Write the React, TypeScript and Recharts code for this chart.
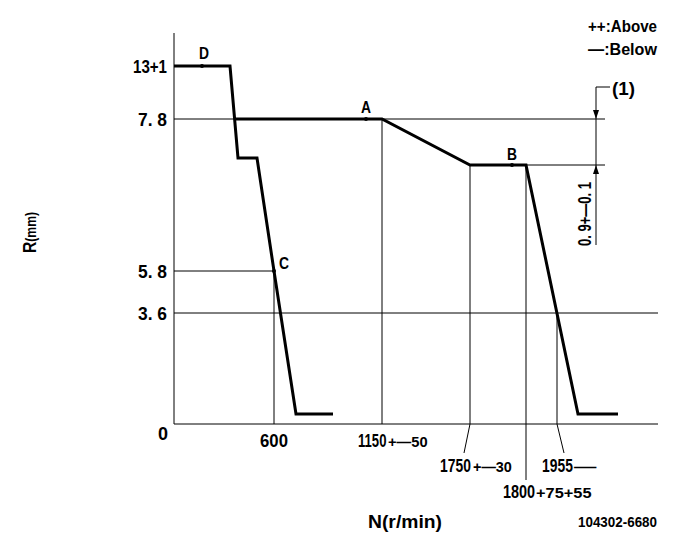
import React from "react";
import {
  ComposedChart,
  Line,
  XAxis,
  YAxis,
  ReferenceLine,
  ReferenceDot,
  Customized,
} from "recharts";

// Schematic drawing (not to scale): positions are in the drawing's own units.
// Start / full-load curve
const curveStartX = [0, 56, 64, 83, 100, 122, 159];
const curveStartY = [358, 358, 266, 266, 153, 10, 10];
// Governor curve
const curveGovX = [61, 208, 296, 352, 404, 444];
const curveGovY = [305, 305, 259, 259, 10, 10];

// Measuring points
const pointNames = ["D", "A", "B", "C"];
const pointX = [28, 192, 338, 100];
const pointY = [358, 305, 259, 153];

// Axis ticks
const xTickPos = [0, 100, 208, 296, 352, 383];
const xTickMain = ["0", "600", "1150", "1750", "1800", "1955"];
const xTickTol = ["", "", "+—50", "+—30", "+75+55", "—"];
const yTickPos = [111, 153, 305, 358];
const yTickLabels = ["3. 6", "5. 8", "7. 8", "13+1"];

// Guide lines: horizontal [x1, x2, y], vertical [x, yTop]
const hGuides = [
  [0, 431, 305],
  [352, 431, 259],
  [0, 100, 153],
  [0, 484, 111],
];
const vGuides = [
  [100, 153],
  [208, 305],
  [296, 259],
  [352, 259],
  [383, 111],
];

const startData = curveStartX.map((x, i) => ({ x, y: curveStartY[i] }));
const govData = curveGovX.map((x, i) => ({ x, y: curveGovY[i] }));

const FONT = "'Liberation Sans',Arial,sans-serif";
const AXIS_Y = 424;

const T = ({ x, y, s = 18, anchor = "start", len, rot, children }: any) => (
  <text
    x={x}
    y={y}
    fontSize={s}
    fontFamily={FONT}
    fontWeight="bold"
    textAnchor={anchor}
    textLength={len}
    lengthAdjust={len ? "spacingAndGlyphs" : undefined}
    fill="#000"
    transform={rot ? `rotate(${rot} ${x} ${y})` : undefined}
  >
    {children}
  </text>
);

// horizontally scaled text (condensed look)
const ST = ({ x, y, s, sx, anchor = "start", children }: any) => (
  <text
    x={0}
    y={0}
    fontSize={s}
    fontFamily={FONT}
    fontWeight="bold"
    textAnchor={anchor}
    fill="#000"
    transform={`translate(${x} ${y}) scale(${sx} 1)`}
  >
    {children}
  </text>
);

// layout of x tick labels relative to tick coordinate
const xTickLayout = [
  { mx: -11, anchor: "middle", by: 440, msx: 0.95, tx: 0, tsx: 1, lead: null },
  { mx: 0, anchor: "middle", by: 447, msx: 0.88, tx: 0, tsx: 1, lead: null },
  { mx: -24, anchor: "start", by: 447, msx: 0.69, tx: 6, tsx: 1.05, lead: null },
  { mx: -30, anchor: "start", by: 472, msx: 0.73, tx: 3, tsx: 1.03, lead: [-6, 453] },
  { mx: -23, anchor: "start", by: 498, msx: 0.76, tx: 10, tsx: 1.17, lead: [0, 480] },
  { mx: -15, anchor: "start", by: 472, msx: 0.73, tx: 17, tsx: 1.6, lead: [7, 453] },
];

const XTick = (props: any) => {
  const { payload, index } = props;
  const cx = payload.coordinate;
  let i = xTickPos.indexOf(payload.value);
  if (i < 0) i = index;
  const L = xTickLayout[i];
  return (
    <g>
      {L.lead && (
        <line x1={cx} y1={AXIS_Y} x2={cx + L.lead[0]} y2={L.lead[1]} stroke="#000" strokeWidth={1} />
      )}
      <ST x={cx + L.mx} y={L.by} s={19} sx={L.msx} anchor={L.anchor}>
        {xTickMain[i]}
      </ST>
      {xTickTol[i] && (
        <ST x={cx + L.tx} y={L.by} s={14} sx={L.tsx}>
          {xTickTol[i]}
        </ST>
      )}
    </g>
  );
};

const YTick = (props: any) => {
  const { payload } = props;
  const cy = payload.coordinate;
  const i = yTickPos.indexOf(payload.value);
  const lab = yTickLabels[i];
  return (
    <T x={167} y={cy + 7} anchor="end" len={lab === "13+1" ? 34 : 29} s={19}>
      {lab}
    </T>
  );
};

const pointLabelLayout = [
  { dx: 2, dy: -7, anchor: "middle" },
  { dx: 0, dy: -6, anchor: "middle" },
  { dx: 0, dy: -5, anchor: "middle" },
  { dx: 5, dy: -2, anchor: "start" },
];

const makePointShape = (i: number) => (p: any) => {
  const L = pointLabelLayout[i];
  return (
    <g>
      <circle cx={p.cx} cy={p.cy} r={2} fill="#000" />
      <T x={p.cx + L.dx} y={p.cy + L.dy} anchor={L.anchor} s={17} len={10}>
        {pointNames[i]}
      </T>
    </g>
  );
};

const arrowDown = (p: any) => (
  <path d={`M${p.cx},${p.cy} L${p.cx - 3},${p.cy - 9} L${p.cx + 3},${p.cy - 9} Z`} fill="#000" />
);
const arrowUp = (p: any) => (
  <path d={`M${p.cx},${p.cy} L${p.cx - 3},${p.cy + 9} L${p.cx + 3},${p.cy + 9} Z`} fill="#000" />
);

const StaticText = () => (
  <g>
    <T x={588} y={32} len={69} s={17}>++:Above</T>
    <T x={588} y={55} len={69} s={17}>—:Below</T>
    <T x={612} y={95} len={23} s={18}>(1)</T>
    <T x={591} y={246} len={64} s={18} rot={-90}>0. 9+—0. 1</T>
    <text
      x={36}
      y={253}
      fontFamily={FONT}
      fontWeight="bold"
      fill="#000"
      textLength={41}
      lengthAdjust="spacingAndGlyphs"
      transform="rotate(-90 36 253)"
    >
      <tspan fontSize={18}>R</tspan>
      <tspan fontSize={14}>(mm)</tspan>
    </text>
    <T x={368} y={528} len={74} s={19}>N(r/min)</T>
    <T x={578} y={527} len={79} s={14}>104302-6680</T>
  </g>
);

export default function App() {
  return (
    <div style={{ position: "absolute", left: 0, top: 0, width: 685, height: 549, background: "#fff" }}>
      <ComposedChart
        width={685}
        height={549}
        margin={{ top: 33, right: 27, bottom: 95, left: 114 }}
      >
        <XAxis
          type="number"
          dataKey="x"
          domain={[0, 484]}
          ticks={xTickPos}
          interval={0}
          tickLine={false}
          axisLine={{ stroke: "#000", strokeWidth: 1 }}
          height={30}
          tick={<XTick />}
          allowDataOverflow
        />
        <YAxis
          type="number"
          dataKey="y"
          domain={[0, 391]}
          ticks={yTickPos}
          interval={0}
          tickLine={false}
          axisLine={{ stroke: "#000", strokeWidth: 1 }}
          width={60}
          tick={<YTick />}
          allowDataOverflow
        />
        {hGuides.map((g, i) => (
          <ReferenceLine
            key={"h" + i}
            segment={[
              { x: g[0], y: g[2] },
              { x: g[1], y: g[2] },
            ]}
            stroke="#000"
            strokeWidth={1}
          />
        ))}
        {vGuides.map((g, i) => (
          <ReferenceLine
            key={"v" + i}
            segment={[
              { x: g[0], y: 0 },
              { x: g[0], y: g[1] },
            ]}
            stroke="#000"
            strokeWidth={1}
          />
        ))}
        <ReferenceLine
          segment={[
            { x: 422, y: 337 },
            { x: 422, y: 179 },
          ]}
          stroke="#000"
          strokeWidth={1}
        />
        <ReferenceLine
          segment={[
            { x: 422, y: 337 },
            { x: 436, y: 337 },
          ]}
          stroke="#000"
          strokeWidth={1}
        />
        <ReferenceDot x={422} y={305} r={3} shape={arrowDown} />
        <ReferenceDot x={422} y={259} r={3} shape={arrowUp} />
        <Line
          data={startData}
          dataKey="y"
          type="linear"
          stroke="#000"
          strokeWidth={3}
          dot={false}
          activeDot={false}
          isAnimationActive={false}
        />
        <Line
          data={govData}
          dataKey="y"
          type="linear"
          stroke="#000"
          strokeWidth={3}
          dot={false}
          activeDot={false}
          isAnimationActive={false}
        />
        {pointNames.map((n, i) => (
          <ReferenceDot key={n} x={pointX[i]} y={pointY[i]} r={2} shape={makePointShape(i)} />
        ))}
        <Customized component={StaticText} />
      </ComposedChart>
    </div>
  );
}
